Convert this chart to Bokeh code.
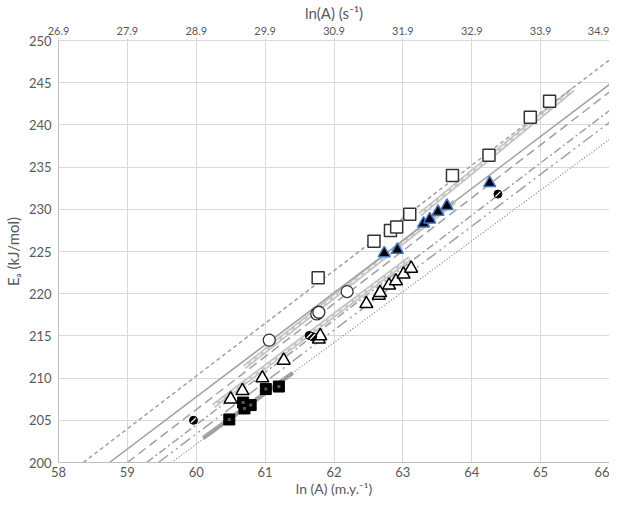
from bokeh.plotting import figure
from bokeh.models import Range1d, LinearAxis, FixedTicker
from bokeh.embed import file_html
from bokeh.resources import INLINE

# ---- data ----
sq_x = [61.77, 62.58, 62.82, 62.91, 63.10, 63.72, 64.25, 64.85, 65.13]
sq_y = [221.9, 226.2, 227.5, 227.9, 229.4, 234.0, 236.4, 240.9, 242.8]

btri_x = [62.73, 62.92, 63.30, 63.39, 63.51, 63.64, 64.26]
btri_y = [224.8, 225.2, 228.3, 228.8, 229.7, 230.4, 233.1]

circ_x = [61.06, 61.75, 61.78, 62.19]
circ_y = [214.5, 217.6, 217.8, 220.25]

tri_x = [60.50, 60.67, 60.96, 61.27, 61.78, 61.80, 62.47, 62.65, 62.67, 62.80, 62.90, 63.01, 63.12]
tri_y = [207.5, 208.5, 210.0, 212.1, 214.6, 215.0, 218.8, 219.8, 220.1, 221.0, 221.5, 222.3, 223.0]

bsq_x = [60.48, 60.68, 60.70, 60.79, 61.01, 61.20]
bsq_y = [205.1, 207.1, 206.4, 206.8, 208.7, 209.0]

bcirc_x = [59.96, 61.64, 61.69, 64.38]
bcirc_y = [205.0, 215.05, 214.9, 231.8]

# thin fit lines (end points)
l1_x = [58.36, 66.0]; l1_y = [200.0, 247.7]
l2_x = [58.74, 66.0]; l2_y = [200.0, 244.8]
l3_x = [59.00, 66.0]; l3_y = [200.0, 243.9]
l4_x = [59.28, 66.0]; l4_y = [200.0, 241.7]
l5_x = [59.45, 66.0]; l5_y = [200.0, 240.3]
l6_x = [59.64, 66.0]; l6_y = [200.0, 238.3]

# thick range segments
bsq_band_x = [60.10, 61.40]; bsq_band_y = [202.9, 210.6]
sq_band_x = [63.25, 65.47]; sq_band_y = [229.4, 244.2]
c_band_x = [60.70, 63.75]; c_band_y = [211.3, 230.9]
t_band_x = [60.25, 63.10]; t_band_y = [206.7, 224.2]

bottom_ticks = [58, 59, 60, 61, 62, 63, 64, 65, 66]
left_ticks = [200, 205, 210, 215, 220, 225, 230, 235, 240, 245, 250]
top_ticks = [26.9, 27.9, 28.9, 29.9, 30.9, 31.9, 32.9, 33.9, 34.9]

FONT = "Lato"
TXT = "#595959"
GRID = "#d9d9d9"

p = figure(width=609, height=499, x_range=Range1d(58, 66), y_range=Range1d(200, 250),
           output_backend="svg", toolbar_location=None,
           min_border_left=49, min_border_right=0, min_border_top=33, min_border_bottom=36)
p.outline_line_color = None
p.background_fill_color = "white"

# axes
p.xaxis.ticker = FixedTicker(ticks=bottom_ticks)
p.yaxis.ticker = FixedTicker(ticks=left_ticks)
for ax in (p.xaxis[0], p.yaxis[0]):
    ax.major_tick_line_color = None
    ax.minor_tick_line_color = None
    ax.major_tick_out = 0
    ax.major_tick_in = 0
    ax.minor_tick_out = 0
    ax.minor_tick_in = 0
    ax.axis_line_color = "#bfbfbf"
    ax.major_label_text_font = FONT
    ax.major_label_text_font_size = "13px"
    ax.major_label_text_color = TXT
    ax.axis_label_text_font = FONT
    ax.axis_label_text_font_size = "15px"
    ax.axis_label_text_font_style = "normal"
    ax.axis_label_text_color = TXT
p.xaxis.axis_label = "ln (A) (m.y.⁻¹)"
p.yaxis.axis_label = "Eₐ (kJ/mol)"
p.xaxis.major_label_standoff = 4
p.xaxis.axis_label_standoff = 0
p.xaxis.axis_label_text_font_size = "14px"
p.yaxis.major_label_standoff = 7
p.yaxis.axis_label_standoff = 4

p.extra_x_ranges = {"top": Range1d(top_ticks[0], top_ticks[-1])}
top = LinearAxis(x_range_name="top", ticker=FixedTicker(ticks=top_ticks),
                 axis_label="ln(A) (s⁻¹)")
top.major_tick_out = 3
top.major_tick_in = 0
top.minor_tick_out = 0
top.minor_tick_in = 0
top.major_tick_line_color = GRID
top.minor_tick_line_color = None
top.axis_line_color = GRID
top.major_label_text_font = FONT
top.major_label_text_font_size = "11px"
top.major_label_text_color = TXT
top.major_label_standoff = 3
top.axis_label_text_font = FONT
top.axis_label_text_font_size = "15px"
top.axis_label_text_font_style = "normal"
top.axis_label_text_color = TXT
top.axis_label_standoff = 2
p.add_layout(top, "above")

p.xgrid.grid_line_color = GRID
p.ygrid.grid_line_color = GRID
p.xgrid.ticker = FixedTicker(ticks=bottom_ticks)
p.ygrid.ticker = FixedTicker(ticks=left_ticks)

# thick range bands
p.line(bsq_band_x, bsq_band_y, line_color="#a6a6a6", line_width=4.5)
for bx, by in ((sq_band_x, sq_band_y), (c_band_x, c_band_y), (t_band_x, t_band_y)):
    p.line(bx, by, line_color="#c6c6c6", line_width=5)
    p.line(bx, by, line_color="white", line_width=1.2, line_dash="5 3")

# thin fit lines
p.line(l1_x, l1_y, line_color="#a0a0a0", line_width=1.5, line_dash="4 3")
p.line(l2_x, l2_y, line_color="#a0a0a0", line_width=1.5)
p.line(l3_x, l3_y, line_color="#a0a0a0", line_width=1.5, line_dash="9 5")
p.line(l4_x, l4_y, line_color="#a0a0a0", line_width=1.5, line_dash="8 3 2 3")
p.line(l5_x, l5_y, line_color="#a0a0a0", line_width=1.5, line_dash="12 4 2 4 2 4")
p.line(l6_x, l6_y, line_color="#808080", line_width=1.2, line_dash="1 2")

# markers
p.scatter(bsq_x, bsq_y, marker="square", size=11, fill_color="black", line_color="black", line_width=1)
p.scatter(bsq_x, bsq_y, marker="square", size=3, fill_color="#555555", line_color=None)
p.scatter(tri_x, tri_y, marker="triangle", size=13, fill_color="white", line_color="black", line_width=1.5)
p.scatter(circ_x, circ_y, marker="circle", size=12, fill_color="white", line_color="#333333", line_width=1.3)
p.scatter(sq_x, sq_y, marker="square", size=12, fill_color="white", line_color="#333333", line_width=1.5)
p.scatter(btri_x, btri_y, marker="triangle", size=12, fill_color="black", line_color="#4472c4", line_width=1.5)
p.scatter(bcirc_x, bcirc_y, marker="circle", size=8, fill_color="black", line_color="black")
p.scatter(bcirc_x, bcirc_y, marker="dash", size=7, angle=0.785, line_color="white", line_width=1.2)

open("out.html", "w").write(file_html(p, INLINE))
